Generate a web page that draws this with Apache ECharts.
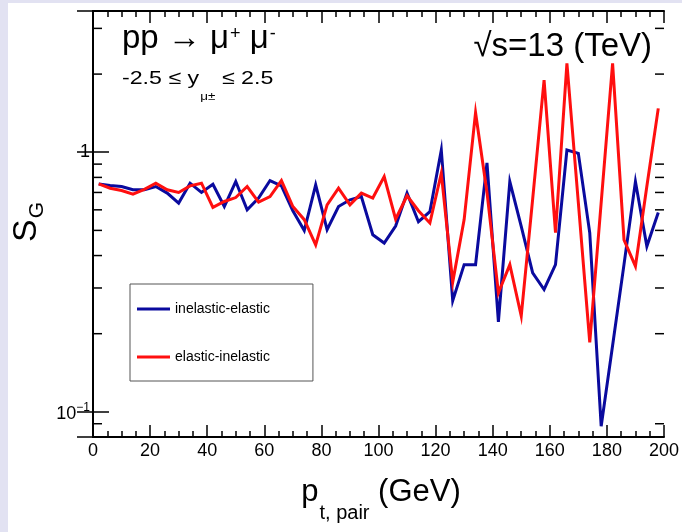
<!DOCTYPE html>
<html>
<head>
<meta charset="utf-8">
<script src="https://cdn.jsdelivr.net/npm/echarts@6/dist/echarts.min.js"></script>
<style>
  html, body { margin: 0; padding: 0; background: #e2e2f2; }
  #paper { position: absolute; left: 8px; top: 3px; width: 674px; height: 529px; background: #ffffff; }
  #chart { position: absolute; left: 0; top: 0; width: 682px; height: 532px; }
</style>
</head>
<body>
<div id="paper"></div>
<div id="chart"></div>
<script>
// p_t,pair bin centres (GeV)
const ptPair = [2, 6, 10, 14, 18, 22, 26, 30, 34, 38,
                42, 46, 50, 54, 58, 62, 66, 70, 74, 78,
                82, 86, 90, 94, 98, 102, 106, 110, 114, 118,
                122, 126, 130, 134, 138, 142, 146, 150, 154, 158,
                162, 166, 170, 174, 178, 182, 186, 190, 194, 198];

// S_G, inelastic-elastic (blue)
const inelasticElastic = [0.755, 0.745, 0.738, 0.717, 0.717, 0.738, 0.696, 0.637, 0.760, 0.700,
                          0.753, 0.618, 0.771, 0.600, 0.666, 0.778, 0.742, 0.595, 0.499, 0.749,
                          0.503, 0.618, 0.656, 0.675, 0.481, 0.447, 0.520, 0.696, 0.540, 0.590,
                          1.020, 0.268, 0.369, 0.369, 0.910, 0.222, 0.771, 0.518, 0.343, 0.296,
                          0.369, 1.020, 0.990, 0.489, 0.088, 0.180, 0.370, 0.771, 0.434, 0.586];

// S_G, elastic-inelastic (red)
const elasticInelastic = [0.755, 0.727, 0.712, 0.690, 0.720, 0.760, 0.717, 0.700, 0.742, 0.760,
                          0.613, 0.646, 0.669, 0.738, 0.643, 0.675, 0.778, 0.618, 0.550, 0.440,
                          0.627, 0.727, 0.627, 0.696, 0.666, 0.806, 0.552, 0.680, 0.595, 0.534,
                          0.830, 0.316, 0.550, 1.420, 0.700, 0.287, 0.369, 0.234, 0.660, 1.895,
                          0.490, 2.200, 0.640, 0.185, 0.640, 2.200, 0.460, 0.364, 0.740, 1.476];

const seriesNames = ['inelastic-elastic', 'elastic-inelastic'];
const seriesColors = ['#0a0a9e', '#ff0f0f'];

const xMin = 0, xMax = 200, xStep = 20;
const yMin = 0.08, yMax = 3.5;
// logarithmic minor tick values (ROOT style 2..9 x decade)
const yMinorTicks = [0.09, 0.2, 0.3, 0.4, 0.5, 0.6, 0.7, 0.8, 0.9, 2, 3];

const FONT = 'Liberation Sans, Arial, Helvetica, sans-serif';

const chart = echarts.init(document.getElementById('chart'), null, { renderer: 'canvas' });

const xAxisCommon = {
  type: 'value', min: xMin, max: xMax, interval: xStep,
  axisLine: { show: true, lineStyle: { color: '#000', width: 2 } },
  axisTick: { show: true, inside: true, length: 12, lineStyle: { color: '#000', width: 1.5 } },
  minorTick: { show: true, splitNumber: 4, length: 6, lineStyle: { color: '#000', width: 1.5 } },
  splitLine: { show: false }, minorSplitLine: { show: false }
};
const yAxisCommon = {
  type: 'log', logBase: 10, min: yMin, max: yMax,
  axisLine: { show: true, lineStyle: { color: '#000', width: 2 } },
  axisTick: { show: true, inside: true, length: 16, lineStyle: { color: '#000', width: 1.5 } },
  splitLine: { show: false }
};

const option = {
  animation: false,
  backgroundColor: 'transparent',
  grid: { left: 93, top: 11, right: 16, bottom: 95, containLabel: false },
  xAxis: [
    Object.assign({}, xAxisCommon, {
      position: 'bottom',
      axisLabel: { show: true, margin: 5, fontSize: 18, fontFamily: FONT, color: '#000' }
    }),
    Object.assign({}, xAxisCommon, { position: 'top', axisLabel: { show: false } })
  ],
  yAxis: [
    Object.assign({}, yAxisCommon, {
      position: 'left',
      axisLabel: {
        show: true, margin: 3, fontFamily: FONT, color: '#000', fontSize: 18,
        formatter: function (v) {
          const l = Math.log10(v);
          if (Math.abs(l) < 1e-6) return '1';
          if (Math.abs(l + 1) < 1e-6) return '{b|10}{s|−1}';
          return '';
        },
        rich: {
          b: { fontSize: 18, fontFamily: FONT, color: '#000', verticalAlign: 'top', lineHeight: 20, padding: [3, 0, 0, 0] },
          s: { fontSize: 12, fontFamily: FONT, color: '#000', verticalAlign: 'top', lineHeight: 14 }
        }
      }
    }),
    Object.assign({}, yAxisCommon, { position: 'right', axisLabel: { show: false } })
  ],
  legend: {
    orient: 'vertical', left: 130, top: 284,
    data: seriesNames,
    icon: 'rect', itemWidth: 33, itemHeight: 3, itemGap: 34,
    padding: [18, 43, 17, 7],
    borderColor: '#555', borderWidth: 1, backgroundColor: '#fff',
    textStyle: { fontSize: 14, fontFamily: FONT, color: '#000' }
  },
  series: [
    {
      name: seriesNames[0], type: 'line', xAxisIndex: 0, yAxisIndex: 0,
      data: ptPair.map((x, i) => [x, inelasticElastic[i]]),
      showSymbol: false, symbol: 'none', color: seriesColors[0],
      lineStyle: { color: seriesColors[0], width: 3, join: 'miter', miterLimit: 10 },
      z: 3
    },
    {
      name: seriesNames[1], type: 'line', xAxisIndex: 0, yAxisIndex: 0,
      data: ptPair.map((x, i) => [x, elasticInelastic[i]]),
      showSymbol: false, symbol: 'none', color: seriesColors[1],
      lineStyle: { color: seriesColors[1], width: 3, join: 'miter', miterLimit: 10 },
      z: 4
    },
    {
      name: 'yMinorTicks', type: 'custom', xAxisIndex: 0, yAxisIndex: 0,
      silent: true, clip: false, z: 5,
      data: yMinorTicks.map(v => [xMin, v]),
      encode: { x: 0, y: 1 },
      renderItem: function (params, api) {
        const v = api.value(1);
        const pL = api.coord([xMin, v]);
        const pR = api.coord([xMax, v]);
        const st = { stroke: '#000', lineWidth: 1.5 };
        return {
          type: 'group',
          children: [
            { type: 'line', shape: { x1: pL[0], y1: pL[1], x2: pL[0] + 9, y2: pL[1] }, style: st },
            { type: 'line', shape: { x1: pR[0], y1: pR[1], x2: pR[0] - 9, y2: pR[1] }, style: st }
          ]
        };
      }
    }
  ],
  graphic: [
    {
      type: 'text', x: 122, y: 16, z: 10,
      style: {
        text: '{m|pp → μ}{u|+}{m| μ}{u|-}',
        align: 'left', verticalAlign: 'top', fill: '#000',
        rich: {
          m: { fontSize: 33, fontFamily: FONT, lineHeight: 38, verticalAlign: 'top', padding: [6, 0, 0, 0] },
          u: { fontSize: 18, fontFamily: FONT, lineHeight: 20, verticalAlign: 'top', padding: [9, 0, 0, 1] }
        }
      }
    },
    {
      type: 'text', x: 122, y: 69, z: 10, scaleX: 1.22,
      style: {
        text: '{m|-2.5 ≤ y}{d|μ±}{m| ≤ 2.5}',
        align: 'left', verticalAlign: 'top', fill: '#000',
        rich: {
          m: { fontSize: 19, fontFamily: FONT, lineHeight: 21, verticalAlign: 'top' },
          d: { fontSize: 11, fontFamily: FONT, lineHeight: 12, verticalAlign: 'top', padding: [22, 0, 0, 1] }
        }
      }
    },
    {
      type: 'text', x: 652, y: 47, z: 10,
      style: {
        text: '√s=13 (TeV)', fontSize: 33, fontFamily: FONT,
        align: 'right', verticalAlign: 'middle', fill: '#000'
      }
    },
    {
      type: 'text', x: 29, y: 222, rotation: Math.PI / 2, z: 10,
      style: {
        text: '{s|S}{g|G}',
        align: 'center', verticalAlign: 'middle', fill: '#000',
        rich: {
          s: { fontSize: 34, fontFamily: FONT, lineHeight: 38, verticalAlign: 'top' },
          g: { fontSize: 21, fontFamily: FONT, lineHeight: 23, verticalAlign: 'top', padding: [17, 0, 0, 1] }
        }
      }
    },
    {
      type: 'text', x: 381, y: 477, z: 10,
      style: {
        text: '{p|p}{d|t, pair}{p| (GeV)}',
        align: 'center', verticalAlign: 'top', fill: '#000',
        rich: {
          p: { fontSize: 31, fontFamily: FONT, lineHeight: 35, verticalAlign: 'top' },
          d: { fontSize: 20, fontFamily: FONT, lineHeight: 22, verticalAlign: 'top', padding: [26, 0, 0, 1] }
        }
      }
    }
  ]
};

chart.setOption(option);
</script>
</body>
</html>
